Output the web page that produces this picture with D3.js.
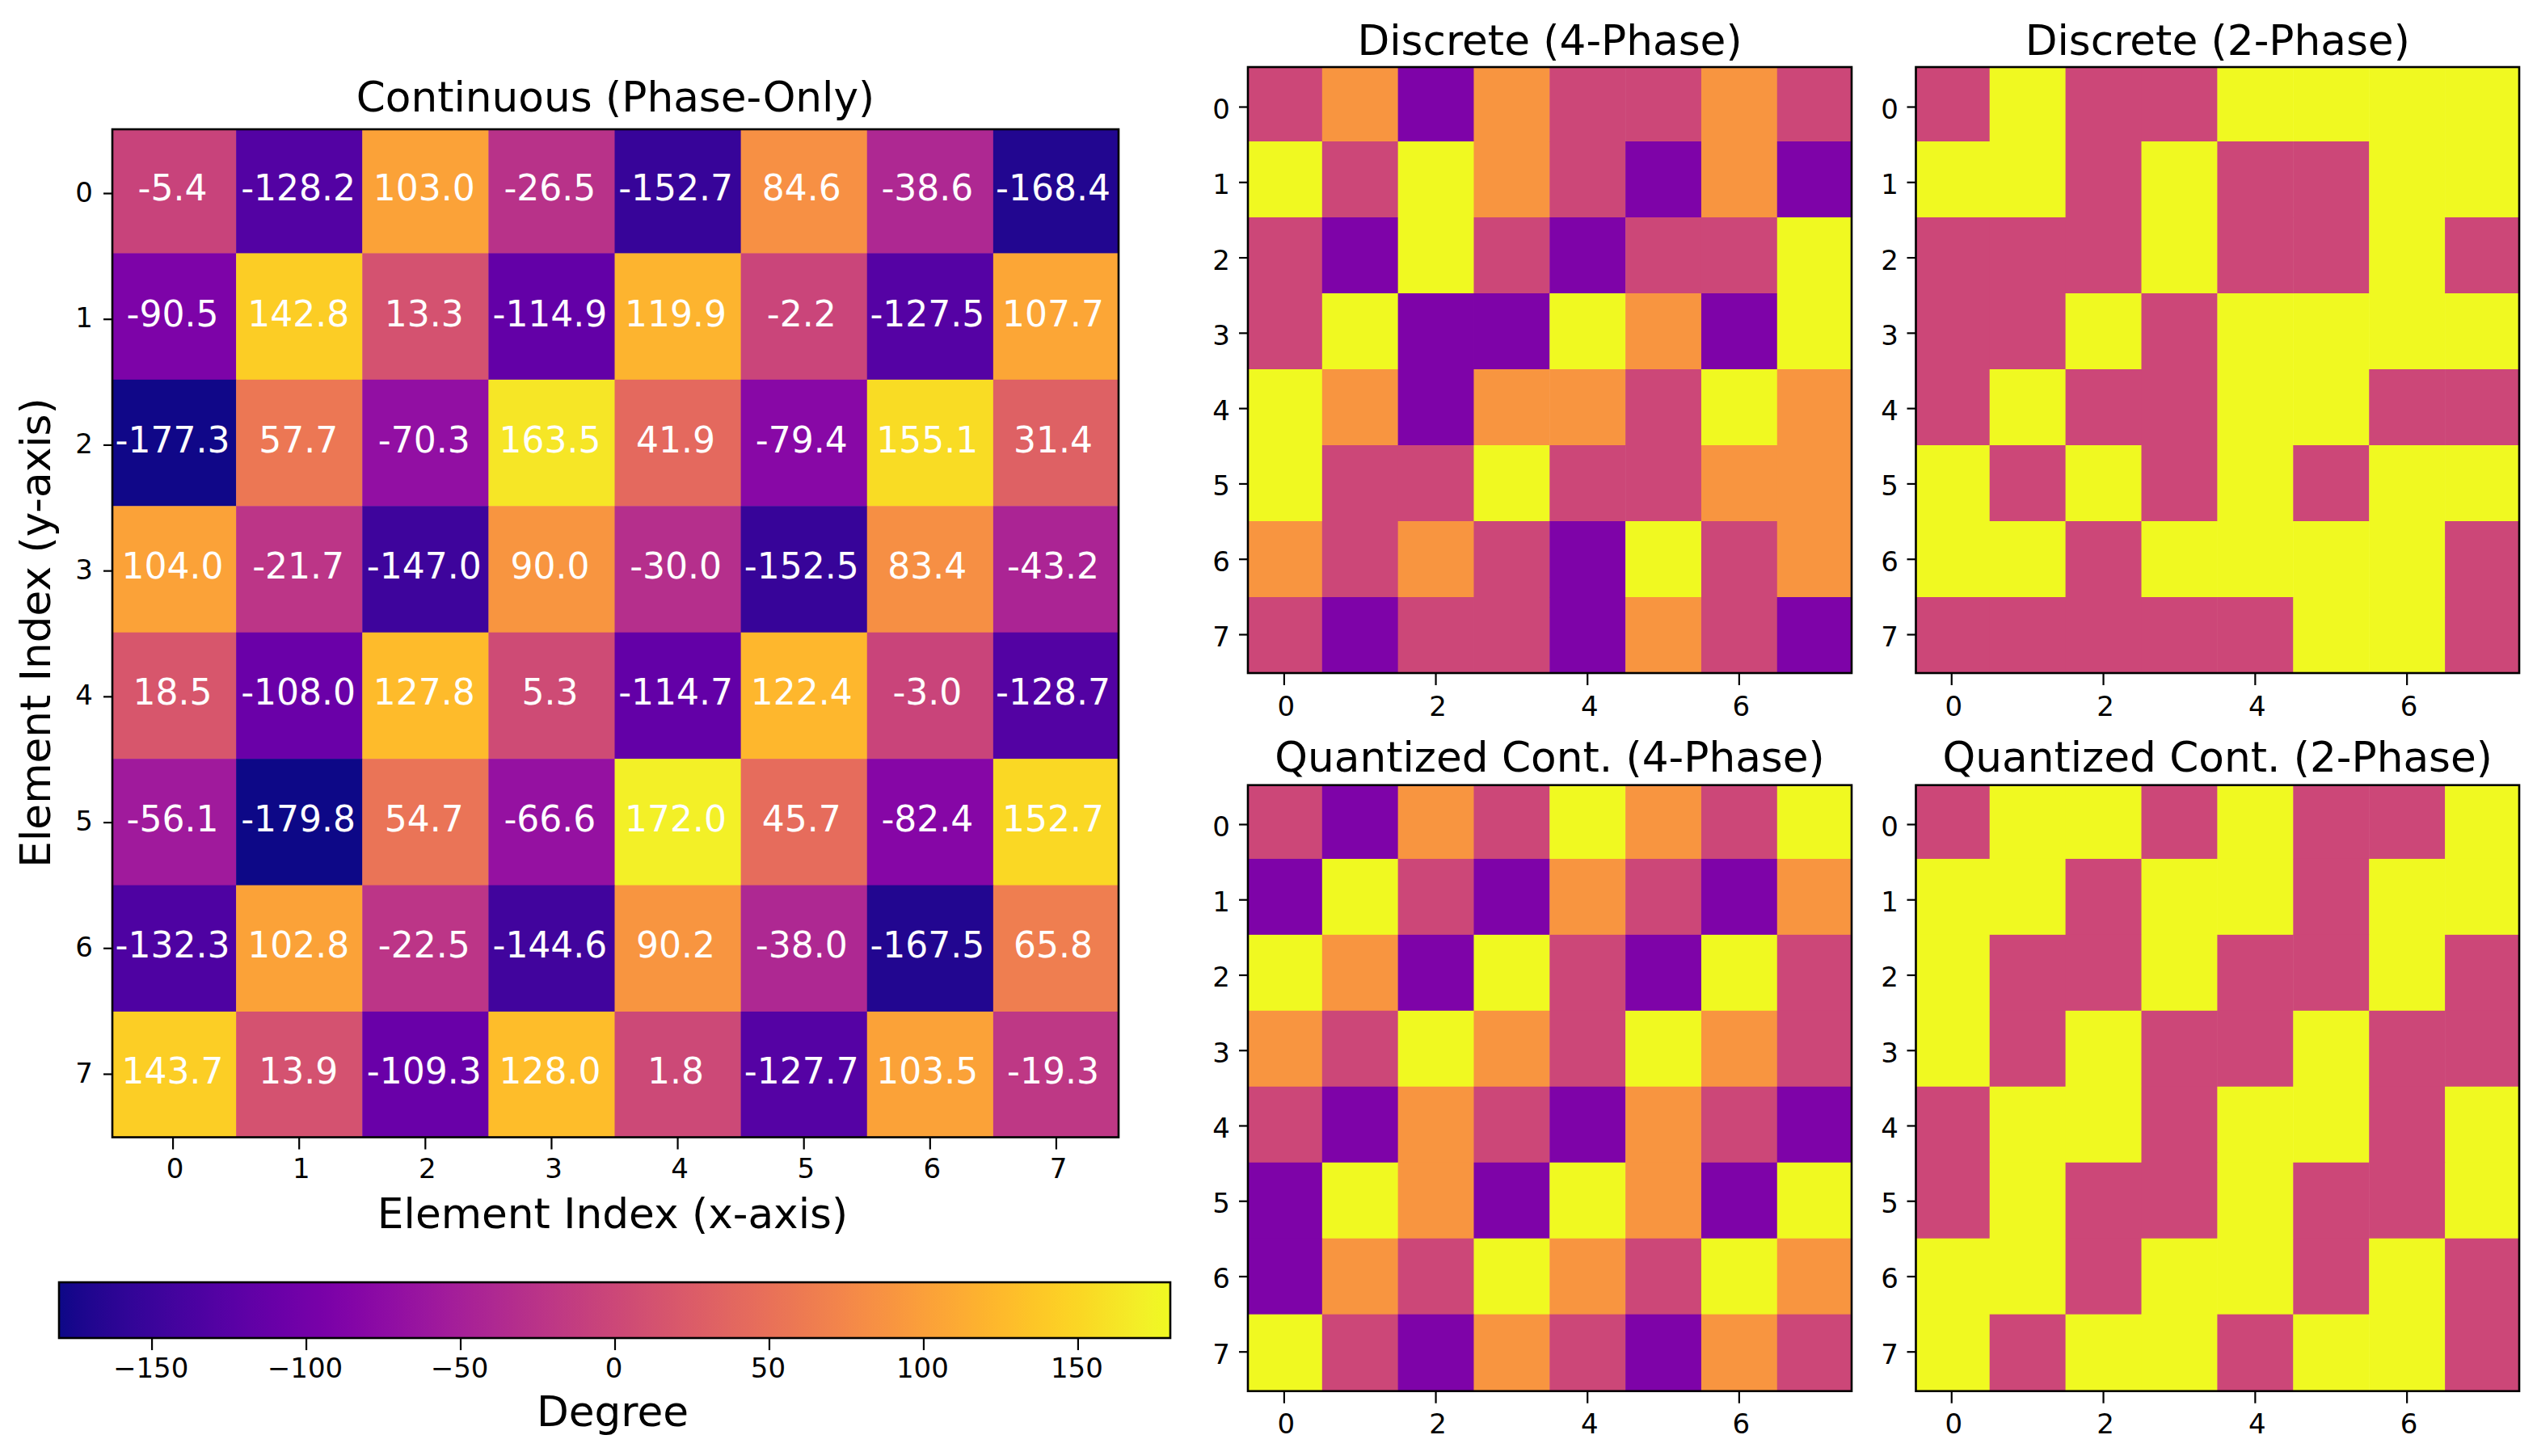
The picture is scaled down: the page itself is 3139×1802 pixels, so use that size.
<!DOCTYPE html>
<html><head><meta charset="utf-8">
<script src="https://cdn.jsdelivr.net/npm/d3@7"></script>
<style>html,body{margin:0;padding:0;background:#fff}svg{display:block}text{font-family:"DejaVu Sans",sans-serif;fill:#000}</style>
</head><body><svg id="c" width="3139" height="1802"></svg>
<script>
const indices = [0,1,2,3,4,5,6,7];
const evenTicks = [0,2,4,6];
const barTicks = [-150,-100,-50,0,50,100,150];
const continuousPhase = [
 [-5.4,-128.2,103.0,-26.5,-152.7,84.6,-38.6,-168.4],
 [-90.5,142.8,13.3,-114.9,119.9,-2.2,-127.5,107.7],
 [-177.3,57.7,-70.3,163.5,41.9,-79.4,155.1,31.4],
 [104.0,-21.7,-147.0,90.0,-30.0,-152.5,83.4,-43.2],
 [18.5,-108.0,127.8,5.3,-114.7,122.4,-3.0,-128.7],
 [-56.1,-179.8,54.7,-66.6,172.0,45.7,-82.4,152.7],
 [-132.3,102.8,-22.5,-144.6,90.2,-38.0,-167.5,65.8],
 [143.7,13.9,-109.3,128.0,1.8,-127.7,103.5,-19.3]];
const discrete4 = [
 [0,90,-90,90,0,0,90,0],
 [180,0,180,90,0,-90,90,-90],
 [0,-90,180,0,-90,0,0,180],
 [0,180,-90,-90,180,90,-90,180],
 [180,90,-90,90,90,0,180,90],
 [180,0,0,180,0,0,90,90],
 [90,0,90,0,-90,180,0,90],
 [0,-90,0,0,-90,90,0,-90]];
const discrete2 = [
 [0,180,0,0,180,180,180,180],
 [180,180,0,180,0,0,180,180],
 [0,0,0,180,0,0,180,0],
 [0,0,180,0,180,180,180,180],
 [0,180,0,0,180,180,0,0],
 [180,0,180,0,180,0,180,180],
 [180,180,0,180,180,180,180,0],
 [0,0,0,0,0,180,180,0]];
const quantized4 = [
 [0,-90,90,0,180,90,0,180],
 [-90,180,0,-90,90,0,-90,90],
 [180,90,-90,180,0,-90,180,0],
 [90,0,180,90,0,180,90,0],
 [0,-90,90,0,-90,90,0,-90],
 [-90,180,90,-90,180,90,-90,180],
 [-90,90,0,180,90,0,180,90],
 [180,0,-90,90,0,-90,90,0]];
const quantized2 = [
 [0,180,180,0,180,0,0,180],
 [180,180,0,180,180,0,180,180],
 [180,0,0,180,0,0,180,0],
 [180,0,180,0,0,180,0,0],
 [0,180,180,0,180,180,0,180],
 [0,180,0,0,180,0,0,180],
 [180,180,0,180,180,0,180,0],
 [180,0,180,180,0,180,180,0]];

const svg = d3.select("#c");
const defs = svg.append("defs");
const color = d3.scaleSequential(d3.interpolatePlasma).domain([-180,180]);
const FRAME = 2.6, TICKW = 2.2, LABEL_FS = 51.7, TICK_FS = 34;
let clipId = 0;

function panel(cfg){
  const {frame,cellX,cellY,tickY,data,title,xt,titleY,xLabelY,yLabelX,yTextOffset} = cfg;
  const [x0,x1,y0,y1] = frame;
  const x = d3.scaleBand().domain(indices).range(cellX);
  const y = d3.scaleBand().domain(indices).range(cellY);
  const yt = d3.scalePoint().domain(indices).range(tickY);
  const id = "clip"+(clipId++);
  defs.append("clipPath").attr("id",id).append("rect").attr("x",x0).attr("y",y0).attr("width",x1-x0).attr("height",y1-y0);
  const g = svg.append("g");
  g.append("g").attr("clip-path",`url(#${id})`)
   .selectAll("g.row").data(data).join("g").attr("class","row")
   .selectAll("rect").data((r,i)=>r.map((v,j)=>({v,i,j}))).join("rect")
   .attr("x",d=>x(d.j)).attr("y",d=>y(d.i))
   .attr("width",x.bandwidth()+0.5).attr("height",y.bandwidth()+0.5)
   .attr("fill",d=>color(d.v));
  const ax = g.append("g").attr("transform",`translate(0,${y1})`)
    .call(d3.axisBottom(x).tickValues(xt).tickSize(15).tickPadding(0));
  const ay = g.append("g").attr("transform",`translate(${x0},0)`)
    .call(d3.axisLeft(yt).tickValues(indices).tickSize(11).tickPadding(0));
  [ax,ay].forEach(a=>{a.select(".domain").remove();
    a.selectAll("line").attr("stroke","#000").attr("stroke-width",TICKW);
    a.selectAll("text").attr("font-size",TICK_FS).attr("font-family",'"DejaVu Sans"').attr("fill","#000");});
  ax.selectAll("text").attr("dy",0).attr("x",2.5).attr("y",xLabelY-y1);
  ay.selectAll("text").attr("dy",0).attr("x",yLabelX-x0).attr("y",yTextOffset).attr("dominant-baseline","central");
  g.append("text").attr("x",(x0+x1)/2).attr("y",titleY).attr("text-anchor","middle")
    .attr("font-size",LABEL_FS).text(title);
  g.append("rect").attr("class","frame").attr("x",x0).attr("y",y0).attr("width",x1-x0).attr("height",y1-y0)
    .attr("fill","none").attr("stroke","#000").attr("stroke-width",FRAME);
  return {x,y,g};
}

const main = panel({frame:[139,1384,160,1407.5],cellX:[136,1385],cellY:[157,1408.4],tickY:[239,1329],
  data:continuousPhase,title:"Continuous (Phase-Only)",
  xt:indices,titleY:138,xLabelY:1458,yLabelX:115,yTextOffset:-2});
const annotX = d3.scalePoint().domain(indices).range([213.5,1303]);
const annotBaseline = d3.scalePoint().domain(indices).range([248,1340.7]);
main.g.append("g").selectAll("g").data(continuousPhase).join("g")
  .selectAll("text").data((r,i)=>r.map((v,j)=>({v,i,j}))).join("text")
  .attr("x",d=>annotX(d.j))
  .attr("y",d=>annotBaseline(d.i))
  .attr("text-anchor","middle").attr("font-size",44).style("fill","#fff")
  .text(d=>d3.format(".1f")(d.v).replace("\u2212","-"));
main.g.append("text").attr("x",758).attr("y",1520).attr("text-anchor","middle").attr("font-size",LABEL_FS).text("Element Index (x-axis)");
main.g.append("text").attr("transform","translate(62,783) rotate(-90)").attr("text-anchor","middle").attr("font-size",LABEL_FS).text("Element Index (y-axis)");

const small = {xt:evenTicks,yTextOffset:2.5};
const leftCol = {cellX:[1542,2292.6],yLabelX:1522}, rightCol = {cellX:[2367.8,3119],yLabelX:2349};
const topRow = {cellY:[81,833],tickY:[132,785],titleY:68,xLabelY:886}, botRow = {cellY:[969,1720.6],tickY:[1020,1672.7],titleY:955,xLabelY:1774};
panel({...small,...leftCol,...topRow,frame:[1544,2291,83,833],data:discrete4,title:"Discrete (4-Phase)"});
panel({...small,...rightCol,...topRow,frame:[2370.5,3117,83,833],data:discrete2,title:"Discrete (2-Phase)"});
panel({...small,...leftCol,...botRow,frame:[1544,2291,971.7,1721.7],data:quantized4,title:"Quantized Cont. (4-Phase)"});
panel({...small,...rightCol,...botRow,frame:[2370.5,3117,971.7,1721.7],data:quantized2,title:"Quantized Cont. (2-Phase)"});

// colorbar
const bx = d3.scaleLinear().domain([-180,180]).range([73,1448]);
const grad = defs.append("linearGradient").attr("id","plasmaBar");
grad.selectAll("stop").data(d3.quantize(t=>t,65)).join("stop")
  .attr("offset",d=>d).attr("stop-color",d=>d3.interpolatePlasma(d));
const barTop=1587, barBottom=1656;
svg.append("rect").attr("x",bx.range()[0]).attr("y",barTop).attr("width",bx.range()[1]-bx.range()[0]).attr("height",barBottom-barTop).attr("fill","url(#plasmaBar)");
const bax = svg.append("g").attr("transform",`translate(0,${barBottom})`)
  .call(d3.axisBottom(bx).tickValues(barTicks).tickSize(15).tickPadding(0).tickFormat(d3.format("d")));
bax.select(".domain").remove();
bax.selectAll("line").attr("stroke","#000").attr("stroke-width",TICKW);
bax.selectAll("text").attr("dy",0).attr("x",-1.5).attr("y",1705-barBottom).attr("font-size",TICK_FS).attr("font-family",'"DejaVu Sans"').attr("fill","#000");
svg.append("rect").attr("x",bx.range()[0]).attr("y",barTop).attr("width",bx.range()[1]-bx.range()[0]).attr("height",barBottom-barTop).attr("fill","none").attr("stroke","#000").attr("stroke-width",FRAME);
svg.append("text").attr("x",758).attr("y",1765).attr("text-anchor","middle").attr("font-size",LABEL_FS).text("Degree");
</script></body></html>
